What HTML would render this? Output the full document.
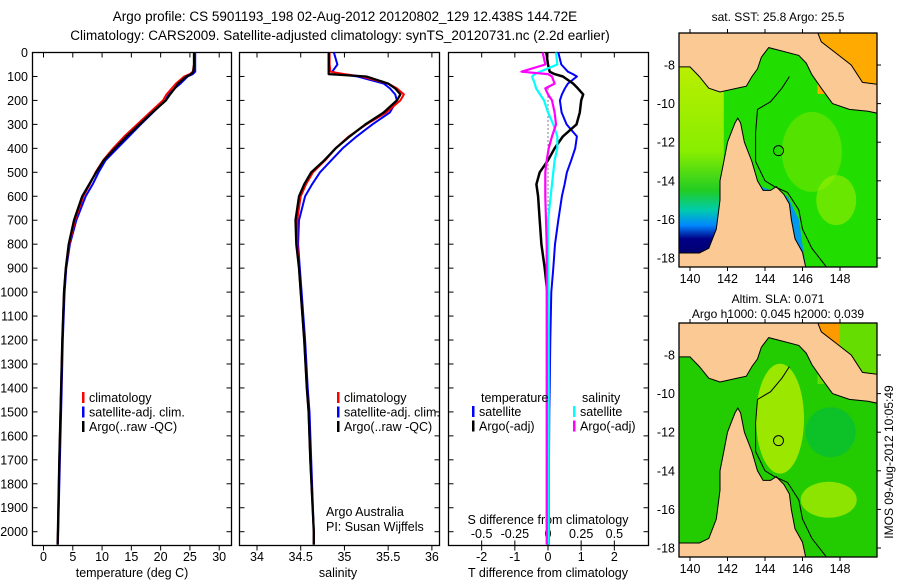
<!DOCTYPE html>
<html><head><meta charset="utf-8"><style>
body{margin:0;background:#fff;}
svg{display:block;font-family:"Liberation Sans",sans-serif;}
</style></head><body>
<svg id="fig" width="900" height="580" viewBox="0 0 900 580">
<text x="345" y="21" font-size="13.5" text-anchor="middle">Argo profile: CS 5901193_198 02-Aug-2012 20120802_129 12.438S 144.72E</text>
<text x="340" y="40" font-size="13.5" text-anchor="middle">Climatology: CARS2009. Satellite-adjusted climatology: synTS_20120731.nc (2.2d earlier)</text>
<g id="charts"></g>
<g id="maps"></g>
<text transform="translate(893,462) rotate(-90)" font-size="12" text-anchor="middle">IMOS 09-Aug-2012 10:05:49</text>
</svg>
<script>
// ---- data ----
const depths   = [0, 50, 80, 90, 100, 130, 150, 175, 200, 250, 300, 350, 400, 450, 500, 550, 600, 700, 800, 900, 1000, 1200, 1400, 1500, 1700, 2000, 2054];
const tempClim = [25.7, 25.7, 25.5, 25.0, 24.0, 22.6, 21.9, 21.0, 20.4, 18.2, 16.0, 13.8, 11.9, 10.2, 8.9, 7.9, 6.8, 5.4, 4.4, 3.8, 3.5, 3.2, 3.0, 2.9, 2.7, 2.45, 2.4];
const tempSat  = [25.9, 25.9, 25.9, 25.5, 24.6, 23.4, 22.4, 21.4, 20.8, 18.7, 16.6, 14.6, 12.6, 10.6, 9.4, 8.4, 7.2, 5.6, 4.5, 3.9, 3.6, 3.3, 3.1, 3.0, 2.8, 2.5, 2.45];
const tempArgo = [25.7, 25.7, 25.6, 25.2, 24.4, 23.0, 22.4, 21.6, 20.9, 18.6, 16.4, 14.2, 12.2, 10.3, 9.0, 7.8, 6.6, 5.2, 4.3, 3.8, 3.5, 3.2, 3.0, 2.9, 2.7, 2.45, 2.4];
const salClim  = [34.83, 34.83, 34.84, 35.0, 35.2, 35.5, 35.6, 35.68, 35.64, 35.48, 35.25, 35.05, 34.9, 34.78, 34.64, 34.56, 34.5, 34.46, 34.46, 34.48, 34.5, 34.54, 34.57, 34.59, 34.61, 34.65, 34.65];
const salSat   = [34.88, 34.92, 34.86, 34.95, 35.15, 35.45, 35.52, 35.58, 35.6, 35.52, 35.32, 35.14, 34.98, 34.85, 34.72, 34.63, 34.55, 34.48, 34.47, 34.49, 34.51, 34.55, 34.58, 34.6, 34.62, 34.65, 34.65];
const salArgo  = [34.82, 34.82, 34.82, 34.82, 35.25, 35.5, 35.58, 35.64, 35.6, 35.45, 35.24, 35.06, 34.9, 34.77, 34.62, 34.54, 34.48, 34.44, 34.45, 34.48, 34.5, 34.54, 34.57, 34.59, 34.61, 34.65, 34.65];
const dTsat    = [0.31, 0.4, 0.6, 0.75, 0.87, 0.6, 0.51, 0.42, 0.36, 0.41, 0.56, 0.87, 0.82, 0.7, 0.57, 0.5, 0.42, 0.31, 0.21, 0.16, 0.1, 0.07, 0.05, 0.04, 0.03, 0.03, 0.03];
const dTargo   = [-0.05, 0.0, 0.05, 0.2, 0.45, 0.76, 0.9, 1.06, 1.0, 0.96, 0.86, 0.45, 0.2, 0.0, -0.25, -0.35, -0.3, -0.25, -0.2, -0.1, -0.02, 0.0, 0.0, 0.0, 0.0, 0.0, 0.0];
const dSsat    = [0.06, 0.07, -0.06, -0.1, -0.12, -0.1, -0.09, -0.06, -0.03, 0.0, 0.04, 0.07, 0.07, 0.05, 0.04, 0.03, 0.02, 0.0, 0.0, 0.0, 0.005, 0.005, 0.005, 0.005, 0.005, 0.005, 0.005];
const dSargo   = [-0.04, -0.02, -0.2, 0.0, 0.03, 0.05, -0.02, 0.0, 0.03, 0.05, 0.06, 0.03, 0.005, -0.01, -0.02, -0.02, -0.02, -0.015, -0.01, -0.01, -0.01, -0.01, -0.01, -0.01, -0.01, -0.01, -0.01];
const depthTicks = [0,100,200,300,400,500,600,700,800,900,1000,1100,1200,1300,1400,1500,1600,1700,1800,1900,2000];
const tempTicks = [0,5,10,15,20,25,30];
const salTicks = [34,34.5,35,35.5,36];
const dTTicks = [-2,-1,0,1,2];
const dSTicks = [-0.5,-0.25,0,0.25,0.5];
const dSTickLabels = ['-0.5','-0.25','0','0.25','0.5'];

const NS='http://www.w3.org/2000/svg';
const charts=document.getElementById('charts');
function mk(tag,attrs,parent){const e=document.createElementNS(NS,tag);for(const k in attrs)e.setAttribute(k,attrs[k]);(parent||charts).appendChild(e);return e;}
const yTop=52.5, yBot=545.5;
const yD=d=>yTop+d*0.2396;
const panels=[
 {x0:32.5,x1:231.5,min:-1.88,max:32.1,name:'temperature-panel'},
 {x0:239.5,x1:439.5,min:33.8,max:36.087,name:'salinity-panel'},
 {x0:448.5,x1:648.5,min:-3.0,max:3.03,name:'difference-panel'}];
panels.forEach(p=>{p.sx=v=>p.x0+(v-p.min)/(p.max-p.min)*(p.x1-p.x0);});
const sS=v=>panels[2].sx(v*4);

function line(xs,vals,sx,color,w,name){
  let d='';vals.forEach((v,i)=>{d+=(i?'L':'M')+sx(v).toFixed(1)+','+yD(depths[i]).toFixed(1);});
  const e=mk('path',{d:d,fill:'none',stroke:color,'stroke-width':w,'stroke-linejoin':'round'});
  
  
}
panels.forEach((p,pi)=>{
  const r=mk('rect',{x:p.x0,y:yTop,width:p.x1-p.x0,height:yBot-yTop,fill:'none',stroke:'#000','stroke-width':1.3});
  
  
  depthTicks.forEach(d=>{
    mk('line',{x1:p.x0,x2:p.x0+5,y1:yD(d),y2:yD(d),stroke:'#000'});
    mk('line',{x1:p.x1-5,x2:p.x1,y1:yD(d),y2:yD(d),stroke:'#000'});
    if(pi===0){const t=mk('text',{x:28,y:yD(d)+4.5,'font-size':12.5,'text-anchor':'end'});t.textContent=d;
      
      }
  });
});
function xticks(p,ticks,labels,sx,ly,top){
  ticks.forEach((v,i)=>{
    const x=sx(v);
    mk('line',{x1:x,x2:x,y1:yBot,y2:yBot+5,stroke:'#000'});
    if(top) mk('line',{x1:x,x2:x,y1:yTop,y2:yTop+5,stroke:'#000'});
    const t=mk('text',{x:x,y:ly,'font-size':12.5,'text-anchor':'middle'});t.textContent=labels[i];
    
    
  });
}
xticks(panels[0],tempTicks,tempTicks.map(String),panels[0].sx,561,true);
xticks(panels[1],salTicks,salTicks.map(String),panels[1].sx,561,true);
xticks(panels[2],dTTicks,dTTicks.map(String),panels[2].sx,561,true);
dSTicks.forEach((v,i)=>{const x=sS(v);mk('line',{x1:x,x2:x,y1:yBot-5,y2:yBot,stroke:'#000'});
  const t=mk('text',{x:x,y:538,'font-size':12.5,'text-anchor':'middle'});t.textContent=dSTickLabels[i];
  
  });
function txt(x,y,s,name,anchor){const t=mk('text',{x:x,y:y,'font-size':12.5,'text-anchor':anchor||'start'});t.textContent=s;
  
  return t;}
txt(132,577,'temperature (deg C)','x-axis-title-temperature','middle');
txt(338,577,'salinity','x-axis-title-salinity','middle');
txt(548,577,'T difference from climatology','x-axis-title-t-diff','middle');
txt(548,524,'S difference from climatology','s-diff-axis-title','middle');
txt(326,516,'Argo Australia','credit-line-1');
txt(326,531,'PI: Susan Wijffels','credit-line-2');

const zl=mk('line',{x1:548,x2:548,y1:yD(150),y2:yD(850),stroke:'#000','stroke-dasharray':'1,3'});



line(depths,tempSat,panels[0].sx,'#0000ff',2,'temp-satellite-line');
line(depths,tempClim,panels[0].sx,'#ff0000',2,'temp-climatology-line');
line(depths,tempArgo,panels[0].sx,'#000',2.3,'temp-argo-line');
line(depths,salSat,panels[1].sx,'#0000ff',2,'sal-satellite-line');
line(depths,salClim,panels[1].sx,'#ff0000',2,'sal-climatology-line');
line(depths,salArgo,panels[1].sx,'#000',2.3,'sal-argo-line');
line(depths,dTsat,panels[2].sx,'#0000ff',2,'tdiff-satellite-line');
line(depths,dTargo,panels[2].sx,'#000',2.5,'tdiff-argo-line');
line(depths,dSsat,sS,'#00ffff',2.2,'sdiff-satellite-line');
line(depths,dSargo,sS,'#ff00ff',2.2,'sdiff-argo-line');

function legend(x,y,items,prefix){
  items.forEach((it,i)=>{
    const b=mk('rect',{x:x,y:y+i*14.5-10,width:2.5,height:11,fill:it[1]});
    
    
    txt(x+7,y+i*14.5,it[0],prefix+'-label');
  });
}
legend(82,402,[['climatology','#f00'],['satellite-adj. clim.','#00f'],['Argo(..raw -QC)','#000']],'legend-temp');
legend(337,402,[['climatology','#f00'],['satellite-adj. clim.','#00f'],['Argo(..raw -QC)','#000']],'legend-sal');
txt(481,402,'temperature','legend-diff-temp-title');
legend(472,416,[['satellite','#00f'],['Argo(-adj)','#000']],'legend-diff-temp');
txt(582,402,'salinity','legend-diff-sal-title');
legend(573,416,[['satellite','#0ff'],['Argo(-adj)','#f0f']],'legend-diff-sal');

// ---- maps ----
const maps=document.getElementById('maps');
function mm(tag,attrs,parent){const e=document.createElementNS(NS,tag);for(const k in attrs)e.setAttribute(k,attrs[k]);(parent||maps).appendChild(e);return e;}
const peninsula=[[139.4,17.74],[140.5,17.74],[141.0,17.5],[141.4,16.5],[141.6,15],[141.6,14],[141.8,13],[142.0,12],[142.2,11.5],[142.4,11.0],[142.55,10.75],[142.7,11],[142.9,12],[143.3,13],[143.6,14.0],[143.9,14.5],[144.3,14.5],[144.6,14.3],[145.0,14.7],[145.3,15.2],[145.4,16],[145.6,17],[146.0,17.7],[146.2,18.6],[139.4,18.6]];
const png=[[139.4,6.3],[139.4,8.1],[140,8.1],[140.5,8.6],[141,9.2],[141.6,9.4],[142.5,9.2],[143,9.1],[143.3,8.6],[143.6,8.2],[143.8,7.6],[144.2,7.1],[145,7.3],[145.8,7.5],[146.2,7.9],[146.5,8.5],[147.0,9.2],[147.6,10.0],[148.5,10.3],[149.5,10.4],[150,10.5],[150,9.0],[149.2,8.9],[148.6,8.0],[147.8,7.4],[147.0,6.8],[146.8,6.3]];
const iso=[[145.3,8.6],[144.9,9.2],[144.3,9.9],[143.6,10.3],[143.5,11.5],[143.5,13],[144,14],[144.5,14.3],[145.2,14.6],[145.8,15.5],[146.0,16.5],[146.5,17.5],[147.3,18.5]];
function drawMap(oy,kind,titles){
  const X=l=>690+(l-140)*18.75, Y=s=>oy+65+(s-8)*19.3;
  const pts=a=>a.map(p=>X(p[0]).toFixed(1)+','+Y(p[1]).toFixed(1)).join(' ');
  const g=mm('g',{});
  
  
  const cid='clip'+kind;
  const cp=mm('clipPath',{id:cid},g);mm('rect',{x:679,y:oy+33,width:198,height:234},cp);
  const c=mm('g',{'clip-path':'url(#'+cid+')'},g);
  if(kind==='sst'){
    mm('rect',{x:679,y:oy+33,width:198,height:234,fill:'#22dd00'},c);
    const gr=mm('linearGradient',{id:'gulf',x1:0,y1:0,x2:0,y2:1},c);
    [['0','#bbee00'],['0.45','#88ee00'],['0.65','#22cc22'],['0.75','#00ccaa'],['0.83','#0088ff'],['0.9','#000088'],['1','#000066']].forEach(s=>mm('stop',{offset:s[0],'stop-color':s[1]},gr));
    mm('rect',{x:679,y:Y(8),width:X(141.8)-679,height:Y(18)-Y(8),fill:'url(#gulf)'},c);
    mm('ellipse',{cx:X(146.5),cy:Y(12.5),rx:30,ry:40,fill:'#77e800',opacity:0.6},c);
    mm('ellipse',{cx:X(147.8),cy:Y(15),rx:20,ry:25,fill:'#99ee00',opacity:0.6},c);
    mm('polygon',{points:pts([[143.8,14.3],[145.2,14.8],[145.8,16],[146.2,18.6],[145.6,18.6],[145.4,16.5],[145,15.3],[144,14.8]]),fill:'#0099ee'},c);
    mm('rect',{x:X(146.8),y:oy+33,width:80,height:Y(9.5)-oy-33,fill:'#ffaa00'},c);
  } else {
    mm('rect',{x:679,y:oy+33,width:198,height:234,fill:'#22cc00'},c);
    mm('ellipse',{cx:X(144.8),cy:Y(11.3),rx:24,ry:55,fill:'#bbee00',opacity:0.8},c);
    mm('ellipse',{cx:X(147.5),cy:Y(12),rx:25,ry:25,fill:'#00bb44',opacity:0.6},c);
    mm('ellipse',{cx:X(147.4),cy:Y(15.5),rx:28,ry:18,fill:'#bbee00',opacity:0.7},c);
    mm('rect',{x:X(146.8),y:oy+33,width:80,height:Y(9.5)-oy-33,fill:'#66dd00'},c);
    mm('rect',{x:X(146.8),y:oy+33,width:22,height:22,fill:'#ff9900'},c);
  }
  mm('polygon',{points:pts(peninsula),fill:'#fbc994',stroke:'#000','stroke-width':1},c);
  mm('polygon',{points:pts(png),fill:'#fbc994',stroke:'#000','stroke-width':1},c);
  mm('polyline',{points:pts(iso),fill:'none',stroke:'#000','stroke-width':1},c);
  mm('circle',{cx:X(144.72),cy:Y(12.438),r:5,fill:'none',stroke:'#000'},c);
  mm('rect',{x:679,y:oy+33,width:198,height:234,fill:'none',stroke:'#000','stroke-width':1.3},g);
  [140,142,144,146,148].forEach(l=>{
    mm('line',{x1:X(l),x2:X(l),y1:oy+33,y2:oy+29,stroke:'#000'},g);
    mm('line',{x1:X(l),x2:X(l),y1:oy+267,y2:oy+271,stroke:'#000'},g);
    const t=mm('text',{x:X(l),y:oy+283,'font-size':12.5,'text-anchor':'middle'},g);t.textContent=l;
  });
  [8,10,12,14,16,18].forEach(s=>{
    mm('line',{x1:877,x2:881,y1:Y(s),y2:Y(s),stroke:'#000'},g);
    const t=mm('text',{x:675,y:Y(s)+4.5,'font-size':12.5,'text-anchor':'end'},g);t.textContent='-'+s;
  });
  titles.forEach((tt,i)=>{const t=mm('text',{x:778,y:oy+tt[1],'font-size':12,'text-anchor':'middle'},g);t.textContent=tt[0];});
}
drawMap(0,'sst',[['sat. SST: 25.8 Argo: 25.5',21]]);
drawMap(290,'sla',[['Altim. SLA: 0.071',13],['Argo h1000: 0.045 h2000: 0.039',28]]);
</script>
</body></html>
